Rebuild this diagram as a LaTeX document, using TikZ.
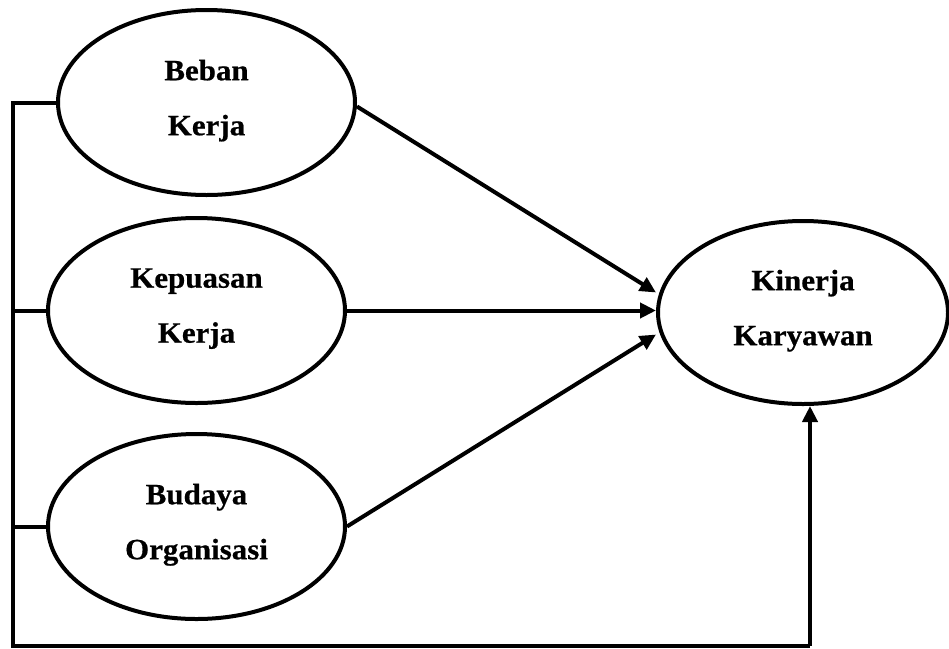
\documentclass[tikz,border=0pt]{standalone}
\usepackage{fontspec}
\newfontfamily\lblfont{Liberation Serif}[FakeStretch=1.05,FakeBold=0.6]
\usetikzlibrary{arrows.meta,shapes.geometric,calc}
\begin{document}
\begin{tikzpicture}[x=1pt,y=-1pt,
  var/.style={ellipse,draw,line width=4pt,inner sep=0pt,minimum width=297pt,minimum height=185pt,
    align=center,text depth=10pt,font=\lblfont\bfseries\fontsize{29.5}{55}\selectfont},
  conn/.style={line width=4pt},
  arr/.style={line width=4pt,-{Triangle[length=16pt,width=15pt]}}]
\useasboundingbox (0,0) rectangle (949,648);
\node[var] (beban) at (206.5,102.5) {Beban\\Kerja};
\node[var] (kep) at (196.5,310.5) {Kepuasan\\Kerja};
\node[var] (bud) at (196.5,526.5) {Budaya\\Organisasi};
\node[var,minimum width=290pt,minimum height=183pt] (kin) at (803,312.5) {Kinerja\\Karyawan};
\coordinate (bl) at (13,645.5);
\coordinate (br) at (810,645.5);
\draw[arr] ([yshift=-4pt]beban.east) -- ([yshift=20pt]kin.west);
\draw[arr] (kep.east) -- (kep.east -| kin.west);
\draw[arr] (bud.east) -- ([yshift=-22pt]kin.west);
\draw[conn,line join=miter] (beban.west) -| (bl) -- (br);
\draw[arr] (br) -- (br |- kin.south);
\draw[conn] (kep.west) -- (kep.west -| bl);
\draw[conn] (bud.west) -- (bud.west -| bl);
\end{tikzpicture}
\end{document}
